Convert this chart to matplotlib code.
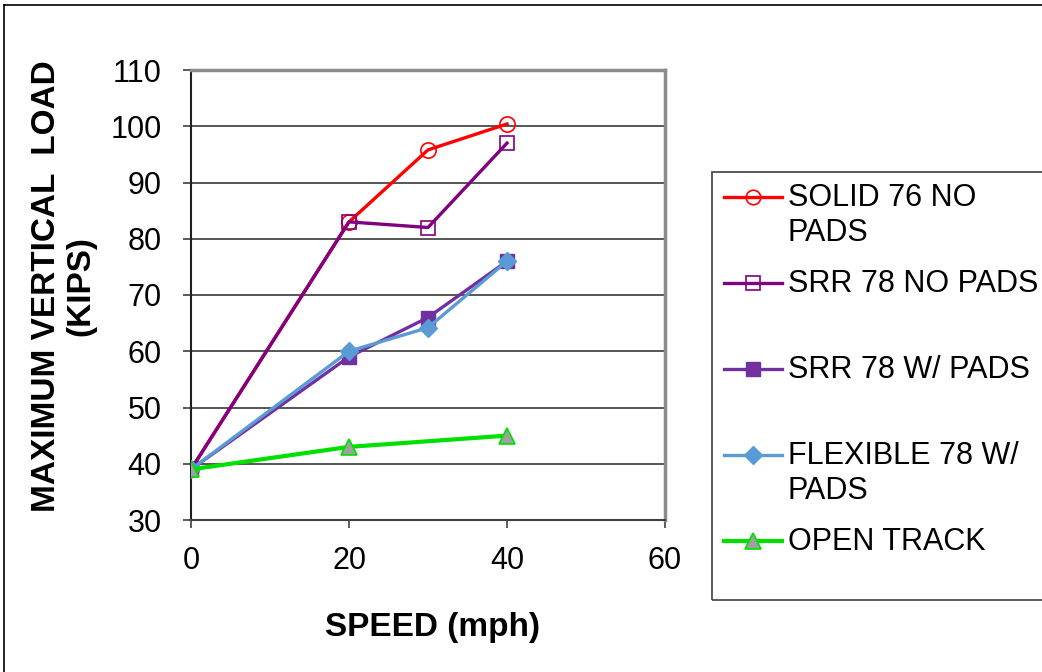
import matplotlib
matplotlib.use("Agg")
import matplotlib.pyplot as plt
from matplotlib.lines import Line2D
from matplotlib.patches import Rectangle

plt.rcParams['font.family'] = ['Liberation Sans', 'DejaVu Sans']

speed = [0, 20, 30, 40]
speed_open = [0, 20, 40]
solid76_no_pads = [39, 83, 95.8, 100.4]
srr78_no_pads = [39, 83, 82, 97]
srr78_w_pads = [39, 59, 66, 76]
flex78_w_pads = [39, 60, 64.2, 76]
open_track = [39, 43, 45]

labels = ["SOLID 76 NO\nPADS", "SRR 78 NO PADS", "SRR 78 W/ PADS",
          "FLEXIBLE 78 W/\nPADS", "OPEN TRACK"]
xticks = [0, 20, 40, 60]
yticks = [30, 40, 50, 60, 70, 80, 90, 100, 110]

W, H = 1042, 672
fig = plt.figure(figsize=(W / 100, H / 100), dpi=100)
ax = fig.add_axes([191 / W, 1 - 520 / H, (665 - 191) / W, (520 - 70) / H])

for y in yticks[1:-1]:
    ax.axhline(y, color='#3a3a3a', lw=1.2, zorder=0)

lw = 2.4
lines = []
lines += ax.plot(speed, solid76_no_pads, color='#ff0000', lw=lw, marker='o', ms=11,
                 mfc='none', mec='#ff0000', mew=1.2, zorder=3)
lines += ax.plot(speed, srr78_no_pads, color='#800080', lw=lw, marker='s', ms=10,
                 mfc='none', mec='#800080', mew=1.2, zorder=4)
lines += ax.plot(speed, srr78_w_pads, color='#7030a0', lw=lw, marker='s', ms=10,
                 mfc='#7030a0', mec='#7030a0', zorder=3)
lines += ax.plot(speed, flex78_w_pads, color='#5b9bd5', lw=lw, marker='D', ms=9.5,
                 mfc='#5b9bd5', mec='#5b9bd5', zorder=4)
lines += ax.plot(speed_open, open_track, color='#00e000', lw=3.0, marker='^', ms=12,
                 mfc='#a0a0a0', mec='#00e000', mew=1.2, zorder=5)

ax.set_xlim(0, 60)
ax.set_ylim(30, 110)
ax.set_xticks(xticks)
ax.set_yticks(yticks)
ax.tick_params(axis='both', labelsize=22, direction='out', length=6,
               width=1.2, color='#404040')
ax.tick_params(axis='y', pad=15)
ax.tick_params(axis='x', pad=13)

ax.spines['left'].set_color('#202020')
ax.spines['left'].set_linewidth(1.5)
ax.spines['bottom'].set_color('#404040')
ax.spines['bottom'].set_linewidth(1.5)
for s in ['top', 'right']:
    ax.spines[s].set_color('#8c8c8c')
    ax.spines[s].set_linewidth(2.5)

ax.set_xlabel("SPEED (mph)", fontsize=24, fontweight='bold')
ax.xaxis.set_label_coords(0.51, -0.205)
ax.set_ylabel("MAXIMUM VERTICAL  LOAD\n(KIPS)", fontsize=24,
              fontweight='bold', linespacing=1.15)
ax.yaxis.set_label_coords(-0.2, 0.52)

# legend (Excel-style: equal slots per entry)
fig.add_artist(Rectangle((712 / W, 1 - 600 / H), (W + 10 - 712) / W, (600 - 172) / H,
                         transform=fig.transFigure, fill=False,
                         edgecolor='#404040', lw=1.2))
for i, (ln, lab) in enumerate(zip(lines, labels)):
    yp = 197 + 86 * i
    yf = 1 - yp / H
    fig.add_artist(Line2D([724 / W, 782 / W], [yf, yf], transform=fig.transFigure,
                          color=ln.get_color(), lw=ln.get_linewidth()))
    fig.add_artist(Line2D([753 / W], [yf], transform=fig.transFigure,
                          color=ln.get_color(), lw=0, marker=ln.get_marker(),
                          ms=ln.get_markersize() * 0.95, mfc=ln.get_markerfacecolor(),
                          mec=ln.get_markeredgecolor(), mew=ln.get_markeredgewidth()))
    fig.text(788 / W, 1 - (yp - 14) / H, lab, fontsize=22, va='top', ha='left',
             linespacing=1.22)

# outer chart border
fig.add_artist(Line2D([4 / W, 4 / W], [0, 1 - 5 / H], transform=fig.transFigure,
                      color='black', lw=1.2))
fig.add_artist(Line2D([4 / W, 1], [1 - 5 / H, 1 - 5 / H], transform=fig.transFigure,
                      color='black', lw=1.2))

fig.savefig("out.png", dpi=100)
